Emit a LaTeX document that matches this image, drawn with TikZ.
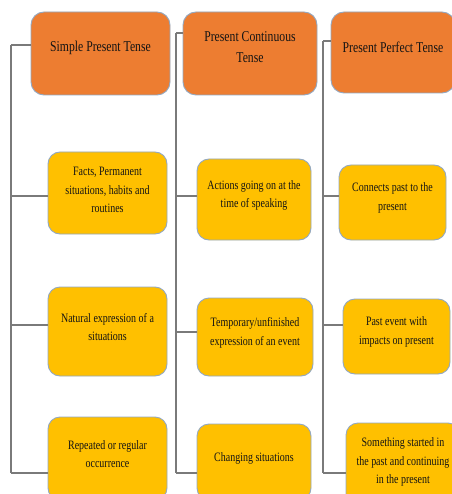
\documentclass[tikz,border=0pt]{standalone}
\usepackage{fontspec}
\setmainfont{Liberation Serif}[FakeStretch=0.78]
\definecolor{hdrfill}{HTML}{ED7D31}
\definecolor{boxfill}{HTML}{FFC000}
\definecolor{boxline}{HTML}{92A8C2}
\definecolor{connline}{HTML}{7A7A7A}
\definecolor{txtcol}{HTML}{141414}
\tikzset{
  hdr/.style={draw=boxline, line width=0.9pt, fill=hdrfill, rounded corners=13pt, inner sep=0pt},
  cbox/.style={draw=boxline, line width=0.9pt, fill=boxfill, rounded corners=12pt, inner sep=0pt},
  htxt/.style={text=txtcol, align=center, inner sep=0pt, font=\fontsize{15}{21}\selectfont},
  ctxt/.style={text=txtcol, align=center, inner sep=0pt, font=\fontsize{12.8}{18.5}\selectfont},
  conn/.style={draw=connline, line width=1.2pt}
}
\begin{document}
\begin{tikzpicture}[x=1pt,y=-1pt]
\useasboundingbox (0,0) rectangle (451,494);
\fill[white] (0,0) rectangle (451,494);
% connector coordinates
\coordinate (c1top) at (11,45);
\coordinate (c1bot) at (11,473);
\coordinate (c2top) at (176,33);
\coordinate (c2bot) at (176,473);
\coordinate (c3top) at (323,41);
\coordinate (c3bot) at (323,473);
% headers
\node[hdr, minimum width=139pt, minimum height=83pt] (h1) at (100.5,53.5) {};
\node[hdr, minimum width=134pt, minimum height=83pt] (h2) at (250,53.5) {};
\node[hdr, minimum width=124pt, minimum height=81pt] (h3) at (393,52.5) {};
% column 1
\node[cbox, minimum width=119pt, minimum height=82pt] (a1) at (107.5,193) {};
\node[cbox, minimum width=119pt, minimum height=89pt] (a2) at (107.5,331.5) {};
\node[cbox, minimum width=119pt, minimum height=83pt] (a3) at (107.5,458.5) {};
% column 2
\node[cbox, minimum width=114pt, minimum height=81pt] (b1) at (254,199.5) {};
\node[cbox, minimum width=116pt, minimum height=78pt] (b2) at (255,337) {};
\node[cbox, minimum width=114pt, minimum height=76pt] (b3) at (254,462) {};
% column 3
\node[cbox, minimum width=107pt, minimum height=75pt] (d1) at (392.5,202.5) {};
\node[cbox, minimum width=107pt, minimum height=75pt] (d2) at (396.5,336.5) {};
\node[cbox, minimum width=114pt, minimum height=86pt] (d3) at (403,466) {};
% connectors
\draw[conn] (c1top) -- (c1top -| h1.west);
\draw[conn] (c1top) -- (c1bot);
\draw[conn] ([yshift=-3pt]a1.west -| c1top) -- ([yshift=-3pt]a1.west);
\draw[conn] ([yshift=6.5pt]a2.west -| c1top) -- ([yshift=6.5pt]a2.west);
\draw[conn] (c1bot) -- (c1bot -| a3.west);
\draw[conn] (c2top) -- (c2top -| h2.west);
\draw[conn] (c2top) -- (c2bot);
\draw[conn] ([yshift=3.5pt]b1.west -| c2top) -- ([yshift=3.5pt]b1.west);
\draw[conn] ([yshift=5pt]b2.west -| c2top) -- ([yshift=5pt]b2.west);
\draw[conn] (c2bot) -- (c2bot -| b3.west);
\draw[conn] (c3top) -- (c3top -| h3.west);
\draw[conn] (c3top) -- (c3bot);
\draw[conn] ([yshift=6.5pt]d1.west -| c3top) -- ([yshift=6.5pt]d1.west);
\draw[conn] ([yshift=11.5pt]d2.west -| c3top) -- ([yshift=11.5pt]d2.west);
\draw[conn] (c3bot) -- (c3bot -| d3.west);
% texts
\node[htxt] (h1t) at ([yshift=5.5pt]h1.center) {Simple Present Tense};
\node[htxt] (h2t) at ([yshift=6pt]h2.center) {Present Continuous\\Tense};
\node[htxt] (h3t) at ([yshift=5.5pt]h3.center) {Present Perfect Tense};
\node[ctxt] (a1t) at ([yshift=3pt]a1.center) {Facts, Permanent\\situations, habits and\\routines};
\node[ctxt] (a2t) at ([yshift=4.5pt]a2.center) {Natural expression of a\\situations};
\node[ctxt] (a3t) at ([yshift=4.5pt]a3.center) {Repeated or regular\\occurrence};
\node[ctxt] (b1t) at ([yshift=4pt]b1.center) {Actions going on at the\\time of speaking};
\node[ctxt] (b2t) at ([yshift=4pt]b2.center) {Temporary/unfinished\\expression of an event};
\node[ctxt] (b3t) at ([yshift=4pt]b3.center) {Changing situations};
\node[ctxt] (d1t) at ([yshift=4.5pt]d1.center) {Connects past to the\\present};
\node[ctxt] (d2t) at ([yshift=4.5pt]d2.center) {Past event with\\impacts on present};
\node[ctxt] (d3t) at ([yshift=4pt]d3.center) {Something started in\\the past and continuing\\in the present};
\end{tikzpicture}
\end{document}
